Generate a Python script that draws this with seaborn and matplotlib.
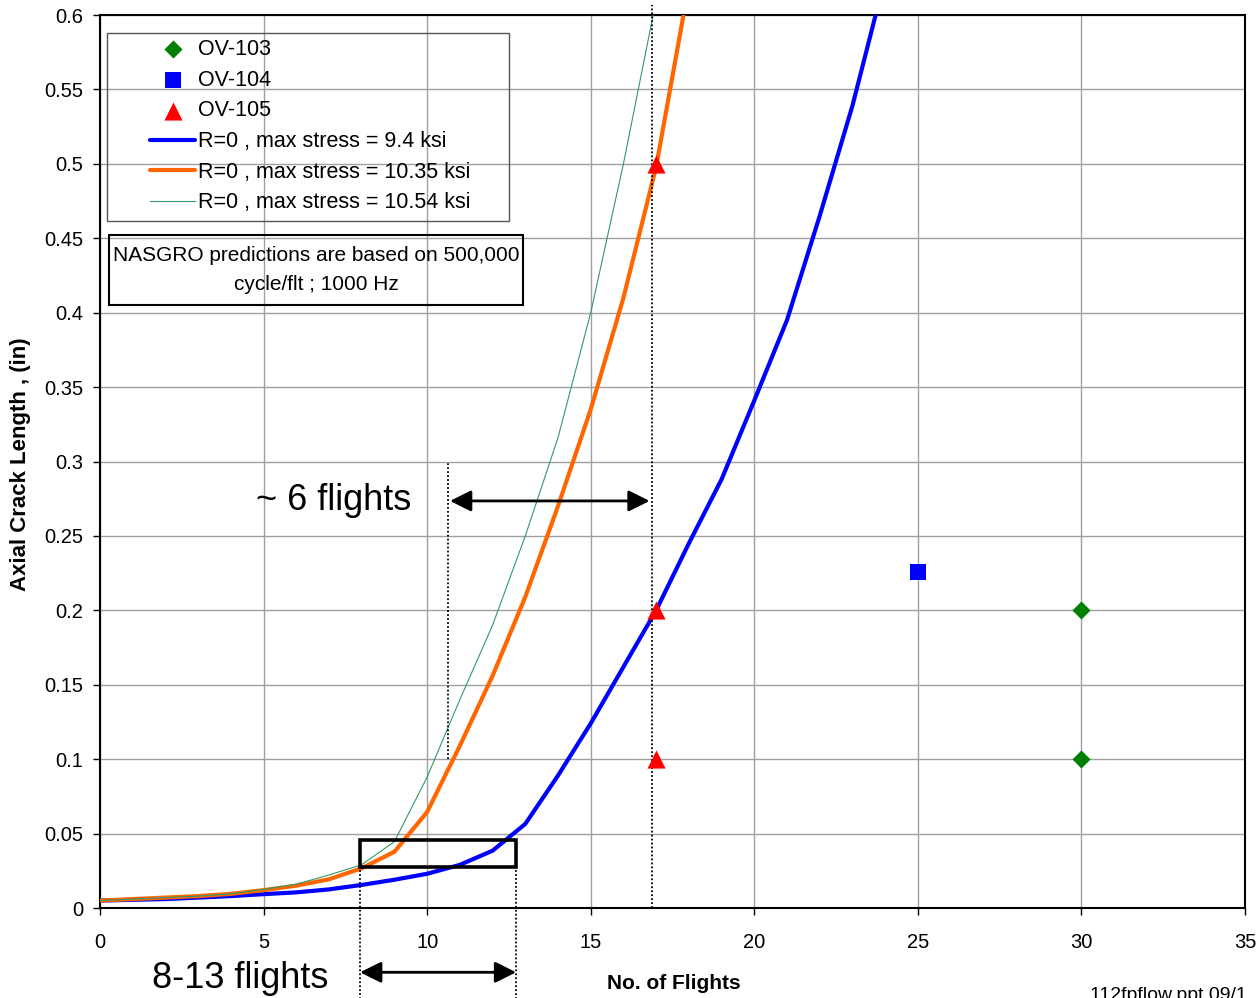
import matplotlib
matplotlib.use("Agg")
import matplotlib.pyplot as plt
import seaborn as sns
import pandas as pd
from matplotlib.patches import Rectangle
from matplotlib.ticker import FuncFormatter

# ---------------- data ----------------
flights_9_4 = list(range(0, 25))
crack_9_4 = [0.005, 0.0055, 0.006, 0.007, 0.008, 0.0093, 0.0105, 0.0125, 0.0155,
             0.019, 0.023, 0.029, 0.0385, 0.0565, 0.089, 0.124, 0.162, 0.2, 0.245,
             0.288, 0.341, 0.395, 0.465, 0.539, 0.625]
flights_10_35 = list(range(0, 19))
crack_10_35 = [0.005, 0.006, 0.007, 0.008, 0.0095, 0.012, 0.015, 0.0193, 0.0267,
               0.0378, 0.0645, 0.109, 0.156, 0.209, 0.27, 0.335, 0.41, 0.498, 0.62]
flights_10_54 = list(range(0, 18))
crack_10_54 = [0.005, 0.006, 0.007, 0.008, 0.0095, 0.0125, 0.016, 0.0222, 0.0291,
               0.0446, 0.088, 0.14, 0.19, 0.25, 0.316, 0.4, 0.5, 0.61]

ov103_x = [30, 30]
ov103_y = [0.2, 0.1]
ov104_x = [25]
ov104_y = [0.226]
ov105_x = [17, 17, 17]
ov105_y = [0.5, 0.2, 0.1]

x_ticks = [0, 5, 10, 15, 20, 25, 30, 35]
y_ticks = [0, 0.05, 0.1, 0.15, 0.2, 0.25, 0.3, 0.35, 0.4, 0.45, 0.5, 0.55, 0.6]

legend_labels = ["OV-103", "OV-104", "OV-105",
                 "R=0 , max stress = 9.4 ksi",
                 "R=0 , max stress = 10.35 ksi",
                 "R=0 , max stress = 10.54 ksi"]
note_text = "NASGRO predictions are based on 500,000\ncycle/flt ; 1000 Hz"
x_label = "No. of Flights"
y_label = "Axial Crack Length , (in)"
footer = "112fpflow.ppt 09/1"

# ---------------- style ----------------
sns.set_theme(style="white")
plt.rcParams["font.family"] = ["Liberation Sans", "DejaVu Sans"]
plt.rcParams["text.color"] = "black"
plt.rcParams["axes.labelcolor"] = "black"

W, H = 1258, 998
fig = plt.figure(figsize=(W / 100, H / 100), dpi=100)
ax = fig.add_axes([100 / W, 1 - 908 / H, 1145 / W, 893 / H])


def fig_rect(x0, y0, x1, y1, **kw):
    r = Rectangle((x0 / W, 1 - y1 / H), (x1 - x0) / W, (y1 - y0) / H,
                  transform=fig.transFigure, fill=False, **kw)
    fig.add_artist(r)
    return r


# scatter points (first so they come first in legend)
sns.scatterplot(x=ov103_x, y=ov103_y, marker="D", s=85, color="#008000",
                linewidth=0, label=legend_labels[0], ax=ax, zorder=5)
sns.scatterplot(x=ov104_x, y=ov104_y, marker="s", s=135, color="#0000FF",
                linewidth=0, label=legend_labels[1], ax=ax, zorder=5)
sns.scatterplot(x=ov105_x, y=ov105_y, marker="^", s=170, color="#FF0000",
                linewidth=0, label=legend_labels[2], ax=ax, zorder=5)

# prediction curves
sns.lineplot(x=flights_9_4, y=crack_9_4, color="#0000FF", linewidth=3,
             label=legend_labels[3], ax=ax, zorder=3)
sns.lineplot(x=flights_10_35, y=crack_10_35, color="#FF6600", linewidth=3,
             label=legend_labels[4], ax=ax, zorder=3)
sns.lineplot(x=flights_10_54, y=crack_10_54, color="#339966", linewidth=0.8,
             label=legend_labels[5], ax=ax, zorder=3)

ax.set_xlim(0, 35)
ax.set_ylim(0, 0.6)
ax.set_xticks(x_ticks)
ax.set_yticks(y_ticks)
ax.yaxis.set_major_formatter(FuncFormatter(lambda v, p: f"{v:g}"))
ax.grid(True, color="#a0a0a0", linewidth=1)
ax.set_axisbelow(True)
for sp in ax.spines.values():
    sp.set_color("black")
    sp.set_linewidth(1.5)
ax.tick_params(axis="x", direction="out", length=5, width=1, pad=13,
               labelsize=14.5, colors="black", bottom=True)
ax.tick_params(axis="y", direction="out", length=5, width=1, pad=7,
               labelsize=14.5, colors="black", left=True)

ax.set_xlabel(x_label, fontsize=15, fontweight="bold")
ax.set_ylabel(y_label, fontsize=16, fontweight="bold")
ax.xaxis.set_label_coords(0.501, -0.074)
ax.yaxis.set_label_coords(-0.060, 0.497)

# legend
handles, labels = ax.get_legend_handles_labels()
ax.legend(handles, labels, loc="upper left", frameon=False,
          bbox_to_anchor=(150 / W, 1 - 39 / H), bbox_transform=fig.transFigure,
          borderpad=0, borderaxespad=0, fontsize=15.5, labelspacing=0.45,
          handlelength=2.1, handletextpad=0.15, scatterpoints=1)
fig_rect(107, 33, 509, 221, edgecolor="#555555", linewidth=1)

# note box
fig_rect(109, 235, 523, 305, edgecolor="black", linewidth=1.5)
fig.text(316 / W, 1 - 270 / H, note_text, ha="center", va="center",
         fontsize=15, linespacing=1.72)

# annotations
dots = dict(color="black", linewidth=1.3, linestyle=(0, (1, 1.2)), clip_on=False,
            zorder=4)
ax.plot([16.87, 16.87], [0.0, 0.607], **dots)
ax.plot([10.64, 10.64], [0.1, 0.3], **dots)
ax.plot([7.95, 7.95], [-0.062, 0.0276], **dots)
ax.plot([12.72, 12.72], [-0.062, 0.0276], **dots)

ax.add_patch(Rectangle((7.95, 0.0276), 12.72 - 7.95, 0.0457 - 0.0276,
                       fill=False, edgecolor="black", linewidth=2.6, zorder=4))

arrow = dict(arrowstyle="<|-|>", color="black", lw=2, mutation_scale=32,
             shrinkA=0, shrinkB=0)
ax.annotate("", xy=(16.8, 0.2735), xytext=(10.7, 0.2735), arrowprops=arrow,
            annotation_clip=False)
ax.annotate("", xy=(12.72, -0.0432), xytext=(7.95, -0.0432), arrowprops=arrow,
            annotation_clip=False)
ax.text(7.15, 0.2735, "~ 6 flights", fontsize=26, ha="center", va="center")
ax.text(4.28, -0.0475, "8-13 flights", fontsize=26, ha="center", va="center",
        clip_on=False)

fig.text(1090 / W, 1 - 987 / H, footer, fontsize=14, ha="left", va="top")

fig.savefig("out.png", dpi=100, facecolor="white")
